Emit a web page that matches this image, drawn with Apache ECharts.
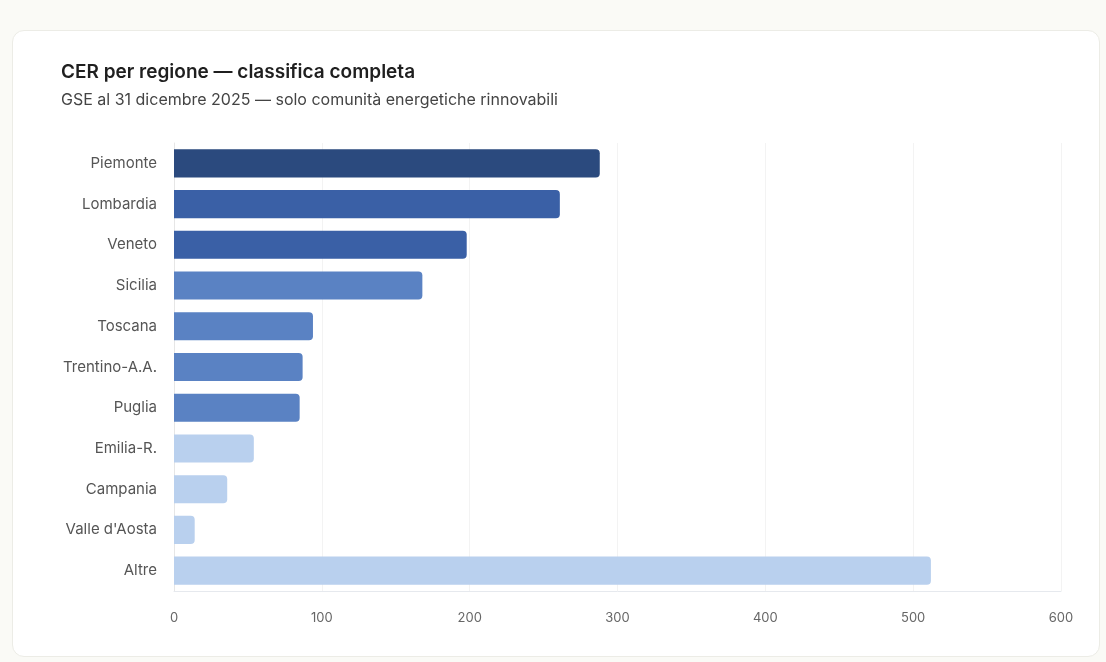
<html>
<head>
    <meta charset="utf-8">
    <title>CER per regione</title>
    <script src="https://cdn.jsdelivr.net/npm/echarts@6/dist/echarts.min.js"></script>
    <style>
        body { margin: 0; background: #fafaf6; }
        #card { position: absolute; left: 12px; top: 30px; width: 1088px; height: 627px;
                background: #fff; border: 1px solid #ecece6; border-radius: 12px; box-sizing: border-box; }
        #main { position: absolute; left: 0; top: 0; width: 1106px; height: 662px; }
    </style>
</head>
<body>
    <div id="card"></div>
    <div id="main"></div>
    <script type="text/javascript">
        // dati
        var regioni = ['Piemonte', 'Lombardia', 'Veneto', 'Sicilia', 'Toscana', 'Trentino-A.A.',
                       'Puglia', 'Emilia-R.', 'Campania', "Valle d'Aosta", 'Altre'];
        var valori = [288, 261, 198, 168, 94, 87, 85, 54, 36, 14, 512];
        var colori = ['#2b4a7e', '#3a60a6', '#3a60a6', '#5a82c3', '#5a82c3', '#5a82c3',
                      '#5a82c3', '#b9d0ee', '#b9d0ee', '#b9d0ee', '#b9d0ee'];
        var tickX = [0, 100, 200, 300, 400, 500, 600];

        var myChart = echarts.init(document.getElementById('main'));

        var option = {
            textStyle: { fontFamily: 'Inter, "Noto Sans", sans-serif' },
            title: {
                text: 'CER per regione — classifica completa',
                subtext: 'GSE al 31 dicembre 2025 — solo comunità energetiche rinnovabili',
                left: 56,
                top: 58,
                itemGap: 10,
                textStyle: { fontSize: 19, fontWeight: 600, color: '#1f1f1f' },
                subtextStyle: { fontSize: 16, color: '#444' }
            },
            grid: { left: 174, right: 45, top: 143, bottom: 71, containLabel: false },
            xAxis: {
                type: 'value',
                min: tickX[0],
                max: tickX[tickX.length - 1],
                interval: 100,
                axisLine: { show: true, lineStyle: { color: '#e6e9ee' } },
                axisTick: { show: false },
                axisLabel: { color: '#666', fontSize: 13, margin: 21 },
                splitLine: { show: true, lineStyle: { color: '#f3f3f3' } }
            },
            yAxis: {
                type: 'category',
                data: regioni,
                inverse: true,
                axisLine: { show: true, lineStyle: { color: '#e6e6e6' } },
                axisTick: { show: false },
                axisLabel: { color: '#555', fontSize: 15, margin: 17 }
            },
            series: [{
                type: 'bar',
                data: valori.map(function (v, i) {
                    return { value: v, itemStyle: { color: colori[i] } };
                }),
                barCategoryGap: '31%',
                itemStyle: { borderRadius: [0, 4, 4, 0] }
            }]
        };

        myChart.setOption(option);
    </script>
</body>
</html>
